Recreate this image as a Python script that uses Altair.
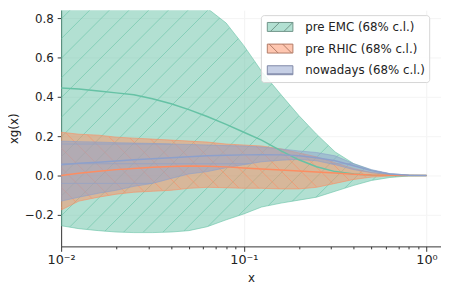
import numpy as np
import pandas as pd
import altair as alt

# ---------------- data ----------------
xs = [0.01, 0.0125, 0.016, 0.02, 0.025, 0.0316, 0.04, 0.05, 0.063, 0.08, 0.1,
      0.125, 0.16, 0.2, 0.25, 0.316, 0.4, 0.5, 0.63, 0.8, 1.0]

emc_mid = [0.445, 0.44, 0.43, 0.42, 0.41, 0.39, 0.365, 0.335, 0.30, 0.26, 0.22,
           0.18, 0.125, 0.08, 0.045, 0.02, 0.008, 0.002, 0.0, 0.0, 0.0]
emc_lo = [-0.255, -0.27, -0.28, -0.287, -0.29, -0.29, -0.287, -0.28, -0.26, -0.225, -0.195,
          -0.16, -0.14, -0.125, -0.11, -0.08, -0.05, -0.025, -0.01, -0.002, 0.0]
emc_hi = [1.1, 1.1, 1.08, 1.05, 1.02, 0.98, 0.94, 0.90, 0.85, 0.775, 0.66,
          0.53, 0.41, 0.305, 0.21, 0.12, 0.06, 0.028, 0.007, 0.0, 0.0]

rhic_mid = [0.0, 0.012, 0.022, 0.03, 0.036, 0.042, 0.046, 0.048, 0.047, 0.044, 0.038,
            0.033, 0.028, 0.023, 0.018, 0.013, 0.007, 0.003, 0.001, 0.0, 0.0]
rhic_lo = [-0.175, -0.13, -0.11, -0.095, -0.085, -0.08, -0.075, -0.065, -0.06, -0.062, -0.065,
           -0.065, -0.068, -0.068, -0.06, -0.04, -0.02, -0.008, -0.002, 0.0, 0.0]
rhic_hi = [0.22, 0.21, 0.205, 0.195, 0.19, 0.185, 0.18, 0.175, 0.17, 0.16, 0.155,
           0.15, 0.135, 0.115, 0.095, 0.065, 0.035, 0.015, 0.004, 0.0, 0.0]

now_mid = [0.055, 0.062, 0.068, 0.074, 0.08, 0.085, 0.09, 0.095, 0.1, 0.103, 0.105,
           0.106, 0.105, 0.1, 0.09, 0.075, 0.05, 0.025, 0.008, 0.001, 0.0]
now_lo = [-0.13, -0.11, -0.09, -0.075, -0.055, -0.04, -0.015, 0.008, 0.02, 0.04, 0.055,
          0.07, 0.078, 0.082, 0.075, 0.055, 0.03, 0.015, 0.004, 0.001, 0.0]
now_hi = [0.175, 0.172, 0.17, 0.167, 0.165, 0.163, 0.16, 0.158, 0.155, 0.152, 0.15,
          0.145, 0.135, 0.125, 0.117, 0.1, 0.06, 0.03, 0.01, 0.002, 0.0]

names = ["pre EMC (68% c.l.)", "pre RHIC (68% c.l.)", "nowadays (68% c.l.)"]
colors = ["#66c2a5", "#fc8d62", "#8da0cb"]
legend_fill = ["#b2e0d2", "#fec6b0", "#c6cfe5"]
legend_stroke = ["#6f9488", "#b07a66", "#7f88a6"]

x_ticks = [0.01, 0.02, 0.03, 0.04, 0.05, 0.06, 0.07, 0.08, 0.09,
           0.1, 0.2, 0.3, 0.4, 0.5, 0.6, 0.7, 0.8, 0.9, 1.0]
y_ticks = [-0.2, 0.0, 0.2, 0.4, 0.6, 0.8]

# ---------------- geometry ----------------
W, H = 386, 240
XMIN, XMAX = 0.01, 1.2
YMIN, YMAX = -0.36, 0.84
LX0, LX1 = np.log10(XMIN), np.log10(XMAX)
FONT = "DejaVu Sans"


def hatch_segments(lo, hi, kind, step=20.0, phase=0.0):
    """Hatch lines (decoration) clipped to a band, returned in data units."""
    Xp = (np.log10(np.array(xs)) - LX0) / (LX1 - LX0) * W
    Xs = np.arange(0, Xp[-1] + 0.01, 0.5)
    lo_p = np.interp(Xs, Xp, (np.array(lo) - YMIN) / (YMAX - YMIN) * H)
    hi_p = np.interp(Xs, Xp, (np.array(hi) - YMIN) / (YMAX - YMIN) * H)
    if kind == "/":
        cs = np.arange(-W - 40 + phase, H + 40, step)
    elif kind == "\\":
        cs = np.arange(phase, W + H + 40, step)
    else:
        cs = np.arange(phase, H, step)
    out = []
    for c in cs:
        if kind == "/":
            Yl = Xs + c
        elif kind == "\\":
            Yl = -Xs + c
        else:
            Yl = np.full_like(Xs, c)
        inside = (Yl >= lo_p) & (Yl <= hi_p) & (Yl >= 0) & (Yl <= H)
        idx = np.where(inside)[0]
        if len(idx) == 0:
            continue
        br = np.where(np.diff(idx) > 1)[0]
        starts = np.concatenate([[idx[0]], idx[br + 1]])
        ends = np.concatenate([idx[br], [idx[-1]]])
        for s, e in zip(starts, ends):
            if e - s < 2:
                continue
            out.append({
                "hx1": 10 ** (LX0 + Xs[s] / W * (LX1 - LX0)),
                "hx2": 10 ** (LX0 + Xs[e] / W * (LX1 - LX0)),
                "hy1": YMIN + Yl[s] / H * (YMAX - YMIN),
                "hy2": YMIN + Yl[e] / H * (YMAX - YMIN),
            })
    return pd.DataFrame(out)


decade = "abs(log(datum.value)/LN10 - round(log(datum.value)/LN10)) < 1e-6"
x_axis = alt.Axis(
    values=x_ticks,
    labelExpr="abs(datum.value-0.01)<1e-9 ? '10⁻²' : abs(datum.value-0.1)<1e-9 ? '10⁻¹' : abs(datum.value-1)<1e-9 ? '10⁰' : ''",
    tickSize={"condition": {"test": decade, "value": 5}, "value": 2.5},
    gridColor={"condition": {"test": decade, "value": "#f2f2f2"}, "value": "rgba(0,0,0,0)"},
    grid=True,
    labelFlush=False,
    labelFontSize=13,
    title="x",
    titleY=32,
    titleBaseline="middle",
    labelPadding=2,
)
y_axis = alt.Axis(
    values=y_ticks,
    format=".1f",
    tickSize=4,
    labelPadding=4,
    labelFlush=False,
    grid=True,
    gridColor="#f4f4f4",
    title="xg(x)",
    titleX=-48,
    titleY=120,
    titleAngle=-90,
    titleAlign="center",
    titleBaseline="middle",
)
xscale = alt.Scale(type="log", domain=[XMIN, XMAX], nice=False)
yscale = alt.Scale(domain=[YMIN, YMAX], nice=False, zero=False)

bands = [(emc_lo, emc_hi, emc_mid, "/", 17.0),
         (rhic_lo, rhic_hi, rhic_mid, "\\", 0.0),
         (now_lo, now_hi, now_mid, "-", 4.0)]

layers = []
for (lo, hi, mid, kind, ph), col in zip(bands, colors):
    df = pd.DataFrame({"x": xs, "lo": lo, "hi": hi, "mid": mid})
    area = alt.Chart(df).mark_area(
        color=col, fillOpacity=0.5, stroke=col, strokeOpacity=0.6, strokeWidth=1, clip=True
    ).encode(
        x=alt.X("x:Q", scale=xscale, axis=x_axis),
        y=alt.Y("lo:Q", scale=yscale, axis=y_axis),
        y2="hi:Q",
    )
    hs = hatch_segments(lo, hi, kind, phase=ph)
    hatch = alt.Chart(hs).mark_rule(
        color=col, strokeWidth=1, opacity=0.6, clip=True
    ).encode(
        x=alt.X("hx1:Q", scale=xscale, axis=x_axis),
        x2="hx2:Q",
        y=alt.Y("hy1:Q", scale=yscale, axis=y_axis),
        y2="hy2:Q",
    )
    layers += [area, hatch]

for (lo, hi, mid, kind, ph), col in zip(bands, colors):
    df = pd.DataFrame({"x": xs, "mid": mid})
    line = alt.Chart(df).mark_line(color=col, strokeWidth=1.5, clip=True).encode(
        x=alt.X("x:Q", scale=xscale, axis=x_axis),
        y=alt.Y("mid:Q", scale=yscale, axis=y_axis),
    )
    layers.append(line)

# legend (symbols drawn by the legend; the helper points lie outside the plot)
paths = [
    "M-1,-0.35H1V0.35H-1Z M-0.75,0.35L-0.05,-0.35 M0.3,0.35L1,-0.35",
    "M-1,-0.35H1V0.35H-1Z M-0.85,-0.35L-0.15,0.35 M0.2,-0.35L0.9,0.35",
    "M-1,-0.35H1V0.35H-1Z M-1,0.28H1",
]
leg = alt.Legend(
    title=None, orient="none", legendX=203, legendY=5,
    padding=4, symbolOffset=2, labelOffset=12, rowPadding=6, clipHeight=16,
    symbolSize=676, symbolStrokeWidth=1,
    labelFont=FONT, labelFontSize=12, labelColor="#222222",
    fillColor="rgba(255,255,255,0.85)", strokeColor="#d5d5d5", cornerRadius=3,
)
df_leg = pd.DataFrame({"series": names, "x": [0.01] * 3, "y": [-5.0] * 3})
leg_layer = alt.Chart(df_leg).mark_point(filled=True, size=676, strokeWidth=1, opacity=1, clip=True).encode(
    x=alt.X("x:Q", scale=xscale, axis=x_axis),
    y=alt.Y("y:Q", scale=yscale, axis=y_axis),
    fill=alt.Fill("series:N", scale=alt.Scale(domain=names, range=legend_fill), legend=leg),
    stroke=alt.Stroke("series:N", scale=alt.Scale(domain=names, range=legend_stroke), legend=leg),
    shape=alt.Shape("series:N", scale=alt.Scale(domain=names, range=paths), legend=leg),
)
layers.append(leg_layer)

chart = alt.layer(*layers).properties(
    width=W, height=H,
    title=alt.TitleParams("g at 3.16 GeV", font=FONT, fontSize=14, fontWeight="normal", offset=6),
    autosize=alt.AutoSizeParams(type="none"),
    padding={"left": 54, "top": 0, "right": 0, "bottom": 37},
).configure_view(stroke=None).configure_axis(
    labelFont=FONT, titleFont=FONT, labelFontSize=12, titleFontSize=12,
    titleFontWeight="normal", labelColor="#222222", titleColor="#222222",
    domainColor="#333333", tickColor="#333333", domainWidth=1, tickWidth=1,
)

chart.save("out.html", embed_options={"renderer": "svg", "actions": False})
